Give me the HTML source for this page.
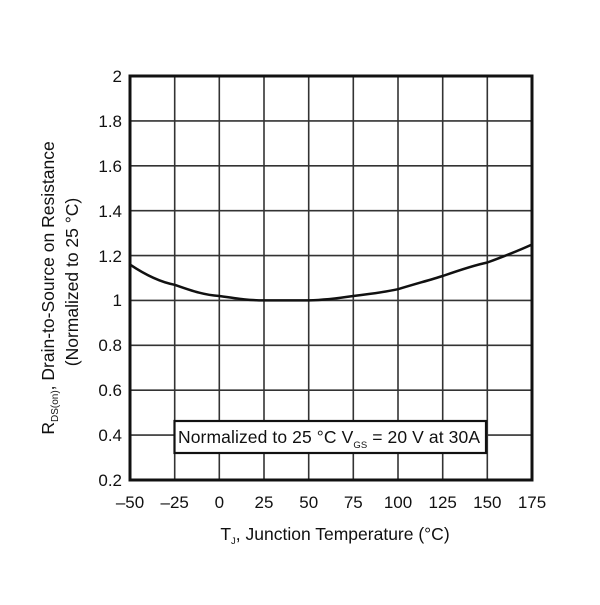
<!DOCTYPE html>
<html><head><meta charset="utf-8"><style>
html,body{margin:0;padding:0;background:#fff;}
svg text{font-family:"Liberation Sans",sans-serif;fill:#111;}
</style></head><body>
<svg width="600" height="600" viewBox="0 0 600 600" xmlns="http://www.w3.org/2000/svg">
<g stroke="#333" stroke-width="1.6">
<line x1="174.7" y1="76" x2="174.7" y2="480"/>
<line x1="219.3" y1="76" x2="219.3" y2="480"/>
<line x1="264" y1="76" x2="264" y2="480"/>
<line x1="308.7" y1="76" x2="308.7" y2="480"/>
<line x1="353.3" y1="76" x2="353.3" y2="480"/>
<line x1="398" y1="76" x2="398" y2="480"/>
<line x1="442.7" y1="76" x2="442.7" y2="480"/>
<line x1="487.3" y1="76" x2="487.3" y2="480"/>
<line x1="130" y1="120.9" x2="532" y2="120.9"/>
<line x1="130" y1="165.8" x2="532" y2="165.8"/>
<line x1="130" y1="210.7" x2="532" y2="210.7"/>
<line x1="130" y1="255.6" x2="532" y2="255.6"/>
<line x1="130" y1="300.4" x2="532" y2="300.4"/>
<line x1="130" y1="345.3" x2="532" y2="345.3"/>
<line x1="130" y1="390.2" x2="532" y2="390.2"/>
<line x1="130" y1="435.1" x2="532" y2="435.1"/>
</g>
<rect x="130" y="76" width="402" height="404" fill="none" stroke="#111" stroke-width="3"/>
<path d="M130,264.6 C150,278 165,283 174.7,284.8 C195,292 205,295 219.3,296 C240,299 250,300.4 264,300.4 L308.7,300.4 C325,300 340,298 353.3,296 C370,294 385,292 398,289.2 C415,284 430,280 442.7,276 C460,270 475,265 487.3,262.5 C505,256 520,250 532,244.5" fill="none" stroke="#111" stroke-width="2.5"/>
<rect x="174.5" y="421" width="311.5" height="32" fill="#fff" stroke="#111" stroke-width="2.2"/>
<text x="178" y="443" font-size="17.5" textLength="302">Normalized to 25 °C V<tspan font-size="9.5" dy="5">GS</tspan><tspan dy="-5"> = 20 V at 30A</tspan></text>
<g font-size="17" text-anchor="end">
<text x="122" y="82">2</text>
<text x="122" y="127">1.8</text>
<text x="122" y="172">1.6</text>
<text x="122" y="217">1.4</text>
<text x="122" y="262">1.2</text>
<text x="122" y="306">1</text>
<text x="122" y="351">0.8</text>
<text x="122" y="396">0.6</text>
<text x="122" y="441">0.4</text>
<text x="122" y="486">0.2</text>
</g>
<g font-size="17" text-anchor="middle">
<text x="130" y="508">–50</text>
<text x="174.7" y="508">–25</text>
<text x="219.3" y="508">0</text>
<text x="264" y="508">25</text>
<text x="308.7" y="508">50</text>
<text x="353.3" y="508">75</text>
<text x="398" y="508">100</text>
<text x="442.7" y="508">125</text>
<text x="487.3" y="508">150</text>
<text x="532" y="508">175</text>
</g>
<text x="335" y="540" font-size="17.5" text-anchor="middle">T<tspan font-size="9.5" dy="4">J</tspan><tspan dy="-4">, Junction Temperature (°C)</tspan></text>
<g transform="translate(54,288) rotate(-90)">
<text x="0" y="0" font-size="17.5" text-anchor="middle">R<tspan font-size="10" dy="4">DS(on)</tspan><tspan dy="-4">, Drain-to-Source on Resistance</tspan></text>
</g>
<g transform="translate(78,282) rotate(-90)">
<text x="0" y="0" font-size="17.5" text-anchor="middle">(Normalized to 25 °C)</text>
</g>
</svg>
</body></html>
